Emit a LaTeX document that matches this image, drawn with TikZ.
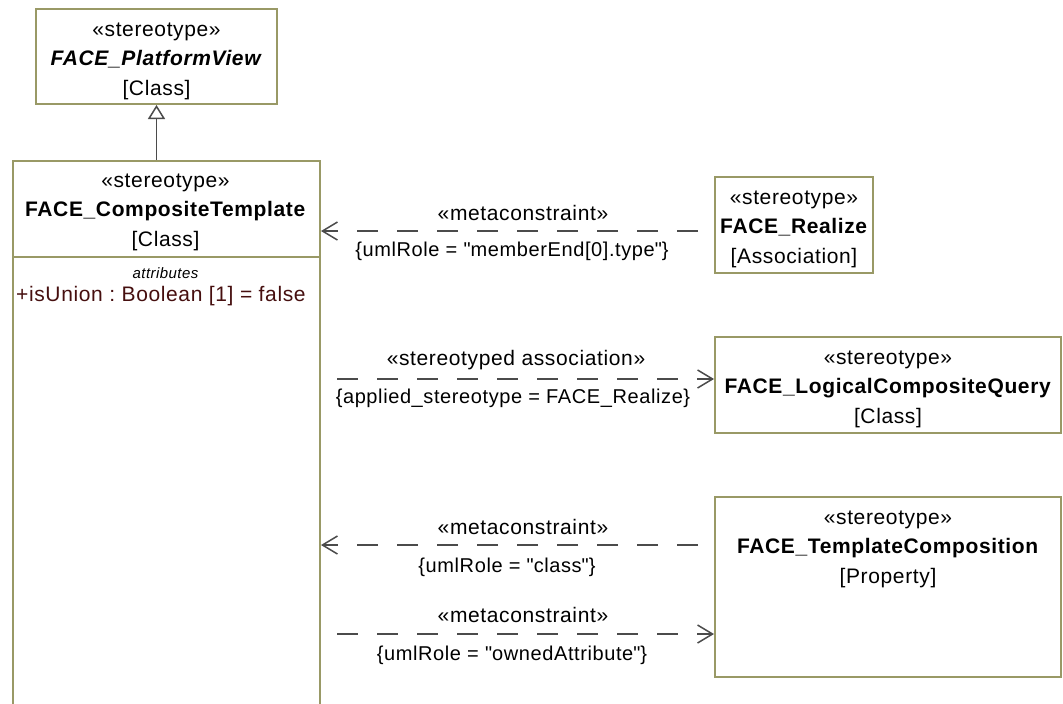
\documentclass[tikz,border=0pt]{standalone}
\usepackage{fontspec}
\setmainfont[LetterSpace=3]{Liberation Sans}
\newfontfamily\qfont[LetterSpace=3]{Liberation Sans}
\usetikzlibrary{arrows.meta}
\definecolor{boxc}{RGB}{153,153,102}
\definecolor{linec}{RGB}{75,75,75}
\definecolor{attrc}{RGB}{70,15,15}
\newcommand{\qq}{{\qfont"}}
\begin{document}
\begin{tikzpicture}[x=1pt,y=-1pt,
  font=\fontsize{21}{29.5}\selectfont\frenchspacing,
  box/.style={draw=boxc, line width=2pt, inner sep=0pt, fill=white},
  txt/.style={align=center, inner sep=0pt},
  lbl/.style={inner sep=0pt},
  sml/.style={inner sep=0pt, font=\fontsize{20}{24}\selectfont\frenchspacing},
  dep/.style={draw=linec, line width=1.5pt, dash pattern=on 21pt off 19pt,
    -{Straight Barb[length=15pt,width=18pt]}},
  gen/.style={draw=linec, line width=1.5pt,
    -{Triangle[open, length=14pt, width=17pt, fill=white]}}]
\clip (0,0) rectangle (1063,704);
\fill[white] (0,0) rectangle (1063,704);

% FACE_PlatformView
\node[box, minimum width=241pt, minimum height=95pt] (PV) at (156.5,56.5) {};
\node[txt] (PVt) at (156.5,61) {«stereotype»\\\textbf{\textit{FACE\_PlatformView}}\\{[Class]}};

% FACE_CompositeTemplate
\node[box, minimum width=307pt, minimum height=580pt, anchor=north west] (CT) at (12,160) {};
\node[txt] (CTt) at (165.5,212) {«stereotype»\\\textbf{FACE\_CompositeTemplate}\\{[Class]}};
\draw[draw=boxc, line width=2pt] (CT.west |- 0,257) -- (CT.east |- 0,257);
\node[lbl, font=\fontsize{15}{17}\selectfont\itshape] (attr) at (165.5,273) {attributes};
\node[lbl, anchor=west, text=attrc] (isU) at (16,296) {+isUnion : Boolean [1] = false};

% generalization
\draw[gen] (CT.north -| PV.south) -- (PV.south);

% FACE_Realize
\node[box, minimum width=158pt, minimum height=96pt] (RZ) at (794,225) {};
\node[txt] (RZt) at (794,229) {«stereotype»\\\textbf{FACE\_Realize}\\{[Association]}};

% FACE_LogicalCompositeQuery
\node[box, minimum width=346pt, minimum height=96pt] (LCQ) at (888,385) {};
\node[txt] (LCQt) at (888,389) {«stereotype»\\\textbf{FACE\_LogicalCompositeQuery}\\{[Class]}};

% FACE_TemplateComposition
\node[box, minimum width=346pt, minimum height=180pt] (TC) at (888,587) {};
\node[txt] (TCt) at (888,549) {«stereotype»\\\textbf{FACE\_TemplateComposition}\\{[Property]}};

% connectors
\coordinate (s1) at (698,231);
\coordinate (s2) at (337,379);
\coordinate (s3) at (698,545);
\coordinate (s4) at (337,634);
\draw[dep] (s1) -- (CT.east |- s1);
\draw[dep] (s2) -- (LCQ.west |- s2);
\draw[dep] (s3) -- (CT.east |- s3);
\draw[dep] (s4) -- (TC.west |- s4);

% labels
\node[lbl] (l1a) at (523,213) {«metaconstraint»};
\node[sml] (l1b) at (512,251) {\{umlRole = \qq memberEnd[0].type\qq\}};
\node[lbl] (l2a) at (516,360) {«stereotyped association»};
\node[sml] (l2b) at (513,398) {\{applied\_stereotype = FACE\_Realize\}};
\node[lbl] (l3a) at (523,527) {«metaconstraint»};
\node[sml] (l3b) at (507,567) {\{umlRole = \qq class\qq\}};
\node[lbl] (l4a) at (523,615) {«metaconstraint»};
\node[sml] (l4b) at (512,655) {\{umlRole = \qq ownedAttribute\qq\}};
\end{tikzpicture}
\end{document}
